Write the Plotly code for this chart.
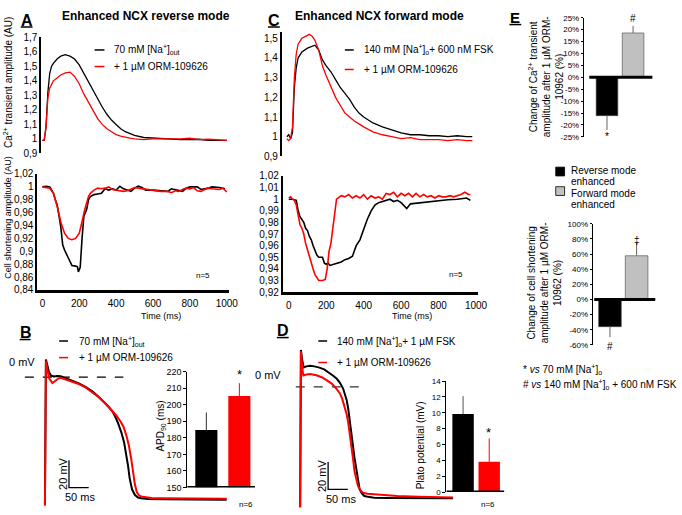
import plotly.graph_objects as go

W, H = 682, 515
FONT = "Liberation Sans, Arial, Helvetica, sans-serif"
BLACK = "#000000"
RED = "#ff0000"
GREY = "#c0c0c0"

# ---------------- Panel A : enhanced NCX reverse mode ----------------
A_CA_T = [0, 10, 20, 30, 40, 50, 60, 80, 100, 125, 150, 175, 200, 225, 250, 275, 300, 325, 350,
          375, 400, 425, 450, 475, 500, 550, 600, 650, 700, 750, 800, 850, 900, 950, 1000]
A_CA_BLACK = [0.99, 0.99, 1.08, 1.32, 1.45, 1.50, 1.52, 1.55, 1.57, 1.58, 1.57, 1.55, 1.51, 1.45,
              1.39, 1.33, 1.27, 1.22, 1.17, 1.13, 1.10, 1.07, 1.05, 1.035, 1.025, 1.01, 1.005,
              1.0, 1.0, 0.995, 0.995, 0.998, 0.99, 0.992, 0.99]
A_CA_RED = [0.99, 0.99, 1.08, 1.28, 1.35, 1.38, 1.40, 1.42, 1.44, 1.455, 1.46, 1.43, 1.38, 1.31,
            1.25, 1.19, 1.14, 1.10, 1.07, 1.05, 1.03, 1.02, 1.01, 1.005, 1.0, 0.995, 1.0, 1.0,
            0.998, 1.0, 1.005, 0.995, 0.998, 0.995, 0.99]

A_CS_T_BLACK = [0, 20, 40, 50, 60, 70, 80, 90, 100, 110, 120, 140, 160, 180, 190, 195, 205, 215,
                225, 240, 250, 260, 280, 300, 320, 340, 360, 380, 400, 420, 440, 460, 480, 500,
                520, 540, 560, 600, 640, 680, 700, 720, 760, 780, 800, 840, 860, 900, 920, 960, 990]
A_CS_BLACK = [1.0, 1.001, 1.0, 0.995, 0.99, 0.98, 0.972, 0.955, 0.937, 0.91, 0.902, 0.89, 0.878,
              0.877, 0.876, 0.868, 0.875, 0.92, 0.955, 0.965, 0.98, 0.985, 0.988, 0.989, 0.99,
              0.997, 0.995, 0.997, 0.995, 1.001, 0.997, 0.995, 0.993, 0.998, 1.001, 0.999, 0.995,
              0.995, 0.994, 0.993, 0.997, 0.996, 0.993, 0.998, 1.0, 1.0, 0.996, 0.998, 1.0, 0.999,
              0.997]
A_CS_T_RED = [0, 20, 40, 60, 80, 100, 120, 140, 160, 180, 200, 210, 220, 230, 240, 250, 260, 280,
              300, 320, 340, 360, 380, 400, 420, 440, 460, 480, 500, 520, 540, 560, 600, 640, 680,
              700, 720, 740, 760, 780, 800, 820, 840, 860, 880, 900, 920, 960, 980, 1000]
A_CS_RED = [1.0, 0.999, 0.998, 0.99, 0.97, 0.945, 0.928, 0.92, 0.918, 0.92, 0.928, 0.94, 0.955,
            0.965, 0.975, 0.985, 0.99, 0.995, 0.998, 0.997, 0.998, 1.0, 0.996, 0.995, 0.994,
            0.993, 0.994, 0.996, 0.999, 0.998, 0.997, 0.996, 0.995, 0.993, 0.993, 0.991, 0.994,
            0.993, 0.996, 0.998, 0.997, 0.999, 0.994, 0.993, 0.996, 0.998, 0.997, 0.996, 0.998,
            0.992]

# ---------------- Panel C : enhanced NCX forward mode ----------------
C_CA_T_BLACK = [-10, 0, 10, 20, 30, 40, 50, 70, 100, 125, 140, 160, 180, 200, 225, 250, 275, 300,
                325, 350, 375, 400, 425, 450, 475, 500, 550, 600, 650, 700, 750, 800, 850, 900,
                950, 980]
C_CA_BLACK = [1.0, 1.01, 0.99, 1.02, 1.25, 1.35, 1.40, 1.43, 1.45, 1.46, 1.465, 1.44, 1.39, 1.36,
              1.33, 1.29, 1.25, 1.22, 1.19, 1.15, 1.12, 1.10, 1.085, 1.07, 1.06, 1.05, 1.035,
              1.02, 1.01, 1.01, 1.005, 1.005, 1.0, 1.005, 1.0, 1.0]
C_CA_T_RED = [-10, 0, 10, 20, 30, 40, 50, 70, 90, 110, 125, 140, 160, 180, 200, 225, 250, 275, 300,
              325, 350, 375, 400, 450, 500, 550, 600, 650, 700, 750, 800, 850, 900, 950, 980]
C_CA_RED = [0.99, 0.98, 0.99, 1.05, 1.30, 1.42, 1.47, 1.50, 1.51, 1.52, 1.51, 1.49, 1.44, 1.36,
            1.31, 1.25, 1.20, 1.16, 1.12, 1.10, 1.08, 1.065, 1.05, 1.025, 1.01, 1.0, 0.99, 0.995,
            0.985, 0.985, 0.985, 0.98, 0.985, 0.98, 0.98]

C_CS_T_BLACK = [0, 20, 40, 50, 60, 80, 90, 100, 110, 120, 130, 140, 150, 160, 180, 190, 200, 210,
                220, 240, 260, 280, 300, 320, 340, 350, 360, 380, 400, 420, 440, 460, 480, 500,
                540, 560, 580, 600, 620, 630, 650, 700, 750, 800, 850, 900, 950, 970]
C_CS_BLACK = [1.0, 1.0, 0.999, 0.99, 0.985, 0.98, 0.975, 0.973, 0.968, 0.965, 0.96, 0.955, 0.952,
              0.95, 0.95, 0.945, 0.944, 0.945, 0.943, 0.944, 0.945, 0.946, 0.948, 0.949, 0.951,
              0.955, 0.96, 0.965, 0.975, 0.983, 0.99, 0.995, 0.997, 0.998, 1.0, 0.998, 0.999,
              0.997, 0.993, 0.992, 0.996, 0.997, 0.998, 0.999, 0.9995, 1.0, 1.001, 0.999]
C_CS_T_RED = [0, 10, 20, 30, 40, 50, 60, 70, 80, 90, 100, 110, 120, 130, 140, 150, 160, 180, 195,
              205, 215, 225, 235, 245, 255, 280, 300, 320, 340, 360, 380, 400, 420, 440, 460, 480,
              500, 520, 540, 560, 580, 600, 620, 640, 660, 680, 700, 720, 740, 760, 780, 800, 820,
              840, 860, 880, 900, 920, 940, 960, 970]
C_CS_RED = [1.001, 1.002, 1.0, 0.999, 0.995, 0.985, 0.978, 0.975, 0.97, 0.962, 0.956, 0.95, 0.945,
            0.94, 0.935, 0.932, 0.93, 0.93, 0.931, 0.94, 0.955, 0.962, 0.975, 0.99, 1.0, 1.003,
            1.002, 1.004, 1.001, 1.003, 1.001, 1.004, 1.0, 1.003, 1.001, 1.002, 1.0, 1.005, 1.004,
            1.006, 1.002, 1.005, 1.003, 1.005, 1.002, 1.005, 1.002, 1.004, 1.002, 1.003, 1.001,
            1.003, 1.002, 1.002, 1.003, 1.002, 1.003, 1.004, 1.006, 1.004, 1.004]

# ---------------- Panel B : action potentials, reverse mode ----------------
B_AP_T_BLACK = [-1, 0, 1.5, 5, 9, 14, 22, 30, 39, 50, 68, 85, 102, 120, 135, 150, 160, 170, 177,
                185, 193, 200, 206, 210, 214, 220, 227, 235, 243, 260, 300, 350, 400, 460]
B_AP_V_BLACK = [-93, -60, 13, 9, 4, 1.2, 0.5, 0.8, 0.7, -0.5, -2.4, -4.5, -7.1, -10.5, -14.3,
                -18.5, -21.4, -25, -28.6, -34, -40.5, -48, -57, -65, -74, -82, -86, -88, -88.6,
                -89, -89.2, -89.4, -89.5, -89.6]
B_AP_T_RED = [-1, 0, 1.5, 5, 10, 18, 26, 33, 39, 50, 68, 85, 102, 120, 135, 150, 160, 170, 180,
              190, 198, 205, 212, 218, 223, 227, 232, 238, 246, 255, 270, 300, 350, 400, 460]
B_AP_V_RED = [-94, -60, 12, 6, -1, -4.3, -2.5, -1, -0.5, -1.5, -3, -5, -7.5, -11, -14.5, -18.5,
              -21.5, -24.5, -28, -32, -36, -42, -50, -60, -70, -78, -84, -86.5, -87.5, -88, -88.3,
              -88.5, -88.7, -88.8, -88.9]
B_ZERO_T = [-52, 198]
B_SCALE = dict(t0=60, v0=-80.7, dt=50, dv=20)

B_APD90 = [184.7, 205.3]
B_APD90_ERR = [10.6, 7.7]
B_TICKS = [150, 160, 170, 180, 190, 200, 210, 220]

# ---------------- Panel D : action potentials, forward mode ----------------
D_AP_T_BLACK = [-1, 0, 1, 4, 8, 15, 25, 35, 46, 60, 71, 82, 92, 100, 108, 113, 117, 121, 125, 129,
                133, 137, 142, 146, 150, 156, 162, 175, 187, 220, 300, 387]
D_AP_V_BLACK = [-88, -50, 27, 20, 14.3, 15, 15.5, 15, 14.3, 12.8, 10.7, 8.3, 5.9, 3, -1.2, -5,
                -9.5, -16, -23.8, -33, -42.9, -52, -61.9, -69, -75, -78, -79.8, -80.6, -81,
                -81.2, -81.4, -81.5]
D_AP_T_RED = [-1, 0, 1, 4, 7, 15, 25, 40, 54, 66, 79, 90, 100, 106, 112, 117, 121, 125, 129, 133,
              137, 142, 146, 152, 158, 170, 187, 220, 246, 300, 387]
D_AP_V_RED = [-88, -50, 26, 15, 8.3, 9, 9.5, 8.5, 7.1, 5, 2.4, -1, -4.8, -9, -14.3, -20, -26,
              -34, -42.9, -52, -61.9, -68, -72.6, -75.5, -77.4, -78.2, -78.6, -79.3, -79.8,
              -80.3, -80.9]
D_ZERO_T = [-12, 162]
D_SCALE = dict(t0=70, v0=-75, dt=50, dv=20)

D_PLATO = [9.85, 3.82]
D_PLATO_ERR = [2.25, 2.95]
D_TICKS = [0, 2, 4, 6, 8, 10, 12, 14]

# ---------------- Panel E : summary ----------------
E_GROUPS = [["Reverse mode", "enhanced"], ["Forward mode", "enhanced"]]
E_CA_CHANGE = [-16.1, 18.6]
E_CA_ERR = [6.0, 3.0]
E_CS_CHANGE = [-35.9, 57.8]
E_CS_ERR = [13.8, 18.1]
E_CA_TICKS = [-25, -20, -15, -10, -5, 0, 5, 10, 15, 20, 25]
E_CS_TICKS = [-60, -40, -20, 0, 20, 40, 60, 80, 100]

A_CA_TICKS = [0.9, 1.0, 1.1, 1.2, 1.3, 1.4, 1.5, 1.6, 1.7]
A_CS_TICKS = [0.84, 0.86, 0.88, 0.9, 0.92, 0.94, 0.96, 0.98, 1.0, 1.02]
C_CA_TICKS = [0.9, 1.0, 1.1, 1.2, 1.3, 1.4, 1.5]
C_CS_TICKS = [0.92, 0.93, 0.94, 0.95, 0.96, 0.97, 0.98, 0.99, 1.0, 1.01, 1.02]
TIME_TICKS = [0, 200, 400, 600, 800, 1000]


def comma(v):
    return ("%g" % round(v, 2)).replace(".", ",")


def pct(v):
    return "%d%%" % v


def xdom(a, b):
    return [a / W, b / W]


def ydom(top, bottom):
    return [1 - bottom / H, 1 - top / H]


def px(x):
    return x / W


def py(y):
    return 1 - y / H


fig = go.Figure()

LW = 1.3
# A top
fig.add_trace(go.Scatter(x=A_CA_T, y=A_CA_BLACK, mode="lines", line=dict(color=BLACK, width=LW),
                         xaxis="x", yaxis="y"))
fig.add_trace(go.Scatter(x=A_CA_T, y=A_CA_RED, mode="lines", line=dict(color=RED, width=LW),
                         xaxis="x", yaxis="y"))
# A bottom
fig.add_trace(go.Scatter(x=A_CS_T_BLACK, y=A_CS_BLACK, mode="lines",
                         line=dict(color=BLACK, width=LW + 0.3), xaxis="x2", yaxis="y2"))
fig.add_trace(go.Scatter(x=A_CS_T_RED, y=A_CS_RED, mode="lines",
                         line=dict(color=RED, width=LW + 0.3), xaxis="x2", yaxis="y2"))
# C top
fig.add_trace(go.Scatter(x=C_CA_T_BLACK, y=C_CA_BLACK, mode="lines",
                         line=dict(color=BLACK, width=LW), xaxis="x3", yaxis="y3"))
fig.add_trace(go.Scatter(x=C_CA_T_RED, y=C_CA_RED, mode="lines",
                         line=dict(color=RED, width=LW), xaxis="x3", yaxis="y3"))
# C bottom
fig.add_trace(go.Scatter(x=C_CS_T_BLACK, y=C_CS_BLACK, mode="lines",
                         line=dict(color=BLACK, width=LW + 0.3), xaxis="x4", yaxis="y4"))
fig.add_trace(go.Scatter(x=C_CS_T_RED, y=C_CS_RED, mode="lines",
                         line=dict(color=RED, width=LW + 0.3), xaxis="x4", yaxis="y4"))

# B action potentials
fig.add_trace(go.Scatter(x=B_ZERO_T, y=[0, 0], mode="lines",
                         line=dict(color=BLACK, width=1.3, dash="dash"), xaxis="x5", yaxis="y5"))
fig.add_trace(go.Scatter(x=B_AP_T_BLACK, y=B_AP_V_BLACK, mode="lines",
                         line=dict(color=BLACK, width=2), xaxis="x5", yaxis="y5"))
fig.add_trace(go.Scatter(x=B_AP_T_RED, y=B_AP_V_RED, mode="lines",
                         line=dict(color=RED, width=2), xaxis="x5", yaxis="y5"))
s = B_SCALE
fig.add_trace(go.Scatter(x=[s["t0"], s["t0"], s["t0"] + s["dt"]],
                         y=[s["v0"] + s["dv"], s["v0"], s["v0"]], mode="lines",
                         line=dict(color=BLACK, width=1.3), xaxis="x5", yaxis="y5"))

# B inset bars
for i, (val, err, col) in enumerate(zip(B_APD90, B_APD90_ERR, [BLACK, RED])):
    fig.add_trace(go.Bar(x=[i], y=[val - 150], base=150, width=0.67,
                         marker=dict(color=col, line=dict(width=0)),
                         error_y=dict(type="data", symmetric=False, array=[err], arrayminus=[0],
                                      color=("#333333" if i == 0 else RED), thickness=1, width=0),
                         xaxis="x6", yaxis="y6"))
fig.add_trace(go.Scatter(x=[-0.58, 1.48], y=[150, 150], mode="lines",
                         line=dict(color=BLACK, width=3), xaxis="x6", yaxis="y6"))

# D action potentials
fig.add_trace(go.Scatter(x=D_ZERO_T, y=[0, 0], mode="lines",
                         line=dict(color=BLACK, width=1, dash="dash"), xaxis="x7", yaxis="y7"))
fig.add_trace(go.Scatter(x=D_AP_T_BLACK, y=D_AP_V_BLACK, mode="lines",
                         line=dict(color=BLACK, width=2), xaxis="x7", yaxis="y7"))
fig.add_trace(go.Scatter(x=D_AP_T_RED, y=D_AP_V_RED, mode="lines",
                         line=dict(color=RED, width=2), xaxis="x7", yaxis="y7"))
s = D_SCALE
fig.add_trace(go.Scatter(x=[s["t0"], s["t0"], s["t0"] + s["dt"]],
                         y=[s["v0"] + s["dv"], s["v0"], s["v0"]], mode="lines",
                         line=dict(color=BLACK, width=1.3), xaxis="x7", yaxis="y7"))

# D inset bars
for i, (val, err, col) in enumerate(zip(D_PLATO, D_PLATO_ERR, [BLACK, RED])):
    fig.add_trace(go.Bar(x=[i], y=[val], width=0.82, marker=dict(color=col, line=dict(width=0)),
                         error_y=dict(type="data", symmetric=False, array=[err], arrayminus=[0],
                                      color=("#555555" if i == 0 else RED), thickness=1, width=0),
                         xaxis="x8", yaxis="y8"))
fig.add_trace(go.Scatter(x=[-0.64, 1.58], y=[0, 0], mode="lines",
                         line=dict(color=BLACK, width=3), xaxis="x8", yaxis="y8"))

# E top
E_COLS = [BLACK, GREY]
for i, (val, err) in enumerate(zip(E_CA_CHANGE, E_CA_ERR)):
    fig.add_trace(go.Bar(x=[i], y=[val], width=0.83,
                         marker=dict(color=E_COLS[i], line=dict(color="#444444", width=0.6)),
                         error_y=dict(type="data", symmetric=False,
                                      array=[err if val > 0 else 0], arrayminus=[err if val < 0 else 0],
                                      color="#666666", thickness=1, width=0),
                         xaxis="x9", yaxis="y9"))
fig.add_trace(go.Scatter(x=[-0.68, 1.74], y=[0, 0], mode="lines",
                         line=dict(color=BLACK, width=3), xaxis="x9", yaxis="y9"))
# E bottom
for i, (val, err) in enumerate(zip(E_CS_CHANGE, E_CS_ERR)):
    fig.add_trace(go.Bar(x=[i], y=[val], width=0.85,
                         marker=dict(color=E_COLS[i], line=dict(color="#444444", width=0.6)),
                         error_y=dict(type="data", symmetric=False,
                                      array=[err if val > 0 else 0], arrayminus=[err if val < 0 else 0],
                                      color="#666666", thickness=1, width=0),
                         xaxis="x10", yaxis="y10"))
fig.add_trace(go.Scatter(x=[-0.59, 1.70], y=[0, 0], mode="lines",
                         line=dict(color=BLACK, width=3), xaxis="x10", yaxis="y10"))

HIDDEN = dict(visible=False, showgrid=False, zeroline=False)
TF = dict(size=10, color=BLACK, family=FONT)


def yax(domain, rng, ticks, text, anchor, size=10, lw=2, tick="", ticklen=0):
    return dict(domain=domain, range=rng, anchor=anchor, showline=True, linecolor=BLACK,
                linewidth=lw, ticks=tick, ticklen=ticklen, tickcolor=BLACK, tickwidth=1,
                tickvals=ticks, ticktext=text, tickfont=dict(size=size, color=BLACK, family=FONT),
                showgrid=False, zeroline=False, fixedrange=True)


layout = dict(
    width=W, height=H, margin=dict(l=0, r=0, t=0, b=0), autosize=False,
    paper_bgcolor="white", plot_bgcolor="rgba(0,0,0,0)", showlegend=False,
    barmode="overlay", font=dict(family=FONT, color=BLACK, size=10),
    # A top
    xaxis=dict(domain=xdom(42, 232), range=[-5, 1010], anchor="y", **HIDDEN),
    yaxis=yax(ydom(32, 151), [0.9, 1.7], A_CA_TICKS, [comma(v) for v in A_CA_TICKS], "x"),
    # A bottom
    xaxis2=dict(domain=xdom(38, 232), range=[-27, 1010], anchor="y2", showline=True,
                linecolor=BLACK, linewidth=3, ticks="", tickvals=TIME_TICKS,
                tickfont=TF, showgrid=False, zeroline=False, ticklabelstandoff=2),
    yaxis2=yax(ydom(172, 290.7), [0.84, 1.02], A_CS_TICKS, [comma(v) for v in A_CS_TICKS], "x2"),
    # C top (range extends a little above 1,5 so that the red peak is not clipped)
    xaxis3=dict(domain=xdom(286, 485), range=[-37, 1010], anchor="y3", **HIDDEN),
    yaxis3=yax(ydom(27, 154), [0.9, 1.53], C_CA_TICKS, [comma(v) for v in C_CA_TICKS], "x3"),
    # C bottom
    xaxis4=dict(domain=xdom(287, 485), range=[-32, 1010], anchor="y4", showline=True,
                linecolor=BLACK, linewidth=3, ticks="", tickvals=TIME_TICKS,
                tickfont=TF, showgrid=False, zeroline=False, ticklabelstandoff=2),
    yaxis4=yax(ydom(174, 293), [0.92, 1.02], C_CS_TICKS, [comma(v) for v in C_CS_TICKS], "x4"),
    # B AP
    xaxis5=dict(domain=xdom(20, 235), range=[-65, 472.5], anchor="y5", **HIDDEN),
    yaxis5=dict(domain=ydom(340, 515), range=[-96.4, 28.6], anchor="x5", **HIDDEN),
    # B inset
    xaxis6=dict(domain=xdom(190, 259), range=[-0.58, 1.48], anchor="y6", **HIDDEN),
    yaxis6=yax(ydom(374.3, 493), [150, 220], B_TICKS, [str(v) for v in B_TICKS], "x6",
               size=9, lw=1, tick="outside", ticklen=3),
    # D AP
    xaxis7=dict(domain=xdom(290, 470), range=[-37.5, 412.5], anchor="y7", **HIDDEN),
    yaxis7=dict(domain=ydom(340, 515), range=[-89.3, 35.7], anchor="x7", **HIDDEN),
    # D inset
    xaxis8=dict(domain=xdom(453, 512), range=[-0.64, 1.585], anchor="y8", **HIDDEN),
    yaxis8=yax(ydom(384, 497.7), [0, 14], D_TICKS, [str(v) for v in D_TICKS], "x8",
               size=8, lw=1, tick="outside", ticklen=3),
    # E top
    xaxis9=dict(domain=xdom(593, 665), range=[-0.87, 1.85], anchor="y9", **HIDDEN),
    yaxis9=yax(ydom(12, 134), [-25, 25], E_CA_TICKS, [pct(v) for v in E_CA_TICKS], "x9",
               size=8, lw=1.5, tick="outside", ticklen=2),
    # E bottom
    xaxis10=dict(domain=xdom(602, 668), range=[-0.63, 1.81], anchor="y10", **HIDDEN),
    yaxis10=yax(ydom(223, 347), [-60, 100], E_CS_TICKS, [pct(v) for v in E_CS_TICKS], "x10",
                size=8, lw=1.5, tick="outside", ticklen=2),
)
fig.update_layout(**layout)

anns = []


def ann(text, x, y, size=10, xanchor="center", yanchor="middle", angle=0, color=BLACK, align="left"):
    anns.append(dict(text=text, x=px(x), y=py(y), xref="paper", yref="paper", showarrow=False,
                     xanchor=xanchor, yanchor=yanchor, textangle=angle, align=align,
                     font=dict(size=size, color=color, family=FONT)))


# panel letters & titles
ann("<b>A</b>", 27, 14.5, 16)
ann("<b>C</b>", 278, 14.5, 16)
ann("<b>B</b>", 26, 334, 16)
ann("<b>D</b>", 287, 332, 16)
ann("<b>E</b>", 523, 12, 15)
ann("<b>Enhanced NCX reverse mode</b>", 148, 10, 12)
ann("<b>Enhanced NCX forward mode</b>", 385, 10, 12)

# axis titles
ann("Ca<sup>2+</sup> transient amplitude (AU)", 8, 78, 10, angle=-90)
ann("Cell shortening amplitude (AU)", 8, 216, 9, angle=-90)
ann("Time (ms)", 163, 317, 9)
ann("Time (ms)", 418, 317, 9)
ann("n=5", 206, 276, 8)
ann("n=5", 463, 275, 8)

# legends A / C
ann("70 mM [Na<sup>+</sup>]<sub>out</sub>", 114, 45, 10, xanchor="left")
ann("+ 1 µM ORM-109626", 114, 62, 10, xanchor="left")
ann("140 mM [Na<sup>+</sup>]<sub>o</sub>+ 600 nM FSK", 367, 45, 10, xanchor="left")
ann("+ 1 µM ORM-109626", 367, 65, 10, xanchor="left")

# B
ann("70 mM [Na<sup>+</sup>]<sub>out</sub>", 78, 343, 10, xanchor="left")
ann("+ 1 µM ORM-109626", 78, 360, 10, xanchor="left")
ann("0 mV", 22, 365, 11)
ann("20 mV", 64, 479, 11, angle=-90)
ann("50 ms", 81, 503, 11)
ann("APD<sub>90</sub> (ms)", 163, 430, 10, angle=-90)
ann("*", 243, 377, 13)
ann("n=6", 250, 510, 8)

# D
ann("140 mM [Na<sup>+</sup>]<sub>o</sub>+ 1 µM FSK", 340, 343, 10, xanchor="left")
ann("+ 1 µM ORM-109626", 340, 365, 10, xanchor="left")
ann("0 mV", 272, 378, 11)
ann("20 mV", 327, 481, 11, angle=-90)
ann("50 ms", 346, 505, 11)
ann("Plato potential (mV)", 427, 450, 10, angle=-90)
ann("*", 496, 437, 13)
ann("n=6", 495, 510, 8)

# E
ann("Change of Ca<sup>2+</sup> transient<br>amplitude after 1 µM ORM-<br>10962 (%)", 554, 72, 10,
    angle=-90, align="center")
ann("Change of cell shortening<br>amplitude after 1 µM ORM-<br>10962 (%)", 552, 283, 10,
    angle=-90, align="center")
ann("#", 642.5, 13, 10)
ann("*", 616, 134, 10)
ann("‡", 646, 240, 10)
ann("#", 619, 349, 10)
ann(E_GROUPS[0][0], 577, 168, 10, xanchor="left")
ann(E_GROUPS[0][1], 577, 179.5, 10, xanchor="left")
ann(E_GROUPS[1][0], 577, 191.5, 10, xanchor="left")
ann(E_GROUPS[1][1], 577, 203, 10, xanchor="left")
ann("* <i>vs</i> 70 mM [Na<sup>+</sup>]<sub>o</sub>", 529, 372, 10, xanchor="left")
ann("# <i>vs</i> 140 mM [Na<sup>+</sup>]<sub>o</sub> + 600 nM FSK", 529, 388, 10, xanchor="left")

fig.update_layout(annotations=anns)

shapes = []


def hline(x0, x1, y, color=BLACK, width=1.5):
    shapes.append(dict(type="line", xref="paper", yref="paper", x0=px(x0), x1=px(x1),
                       y0=py(y), y1=py(y), line=dict(color=color, width=width)))


# legend keys
hline(96, 106, 45)
hline(96, 106, 62, RED)
hline(350, 359, 45)
hline(350, 359, 65, RED)
hline(60, 69, 343)
hline(60, 69, 360, RED)
hline(323, 332, 343)
hline(323, 332, 365, RED)
# letter underlines
hline(21, 33, 21.5, width=1.5)
hline(272, 284, 21.5, width=1.5)
hline(20, 31, 341.5, width=1.5)
hline(281, 293, 339.5, width=1.5)
hline(517, 529, 19, width=1.5)
# E legend squares
shapes.append(dict(type="rect", xref="paper", yref="paper", x0=px(564), x1=px(573), y0=py(174), y1=py(165),
                   fillcolor=BLACK, line=dict(color=BLACK, width=0.8)))
shapes.append(dict(type="rect", xref="paper", yref="paper", x0=px(564), x1=px(573), y0=py(194), y1=py(185),
                   fillcolor=GREY, line=dict(color=BLACK, width=0.8)))
fig.update_layout(shapes=shapes)

fig.write_html("out.html", config={"displayModeBar": False, "staticPlot": True},
               post_script="document.body.style.margin='0';document.body.style.overflow='hidden';")
